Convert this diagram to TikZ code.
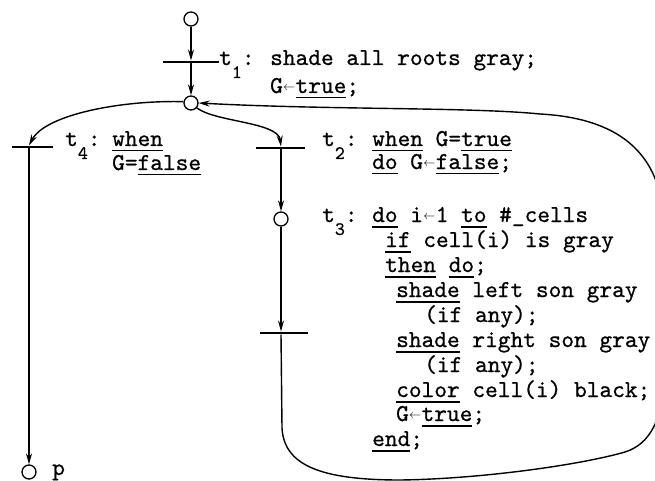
\documentclass[tikz,border=0pt]{standalone}
\usepackage{fontspec}
\usetikzlibrary{arrows.meta}

% typewriter text, underlined keywords, assignment arrow, transition labels
\newfontfamily\codeff{lmmono10-regular.otf}[FakeBold=0.7]
\newcommand\codefont{\codeff\fontsize{24.2}{25}\selectfont}
\newcommand\kw[1]{\leavevmode\setbox0\hbox{#1}\rlap{\rule[-5.5pt]{\wd0}{1.5pt}}\box0\relax}
\newcommand\asg{\makebox[0.525em]{\raisebox{0.1em}{\resizebox{0.5em}{!}{$\leftarrow$}}}}
\newcommand\tlab[1]{t\raisebox{-13pt}{\fontsize{19}{19}\selectfont #1}:}

\begin{document}
\begin{tikzpicture}[x=1pt,y=-1pt,
  place/.style={circle,draw,line width=1.3pt,minimum size=14pt,inner sep=0pt},
  bar/.style={rectangle,fill=black,minimum height=2.6pt,inner sep=0pt},
  arc/.style={line width=1.4pt,-{Stealth[length=11pt,width=6pt]}},
  code/.style={anchor=base west,inner sep=0pt,font=\codefont}]

\useasboundingbox (0,0) rectangle (655,481);
\clip (0,0) rectangle (655,481);

% places and transitions
\node[place] (p0) at (191,19) {};
\node[bar,minimum width=56pt] (t1) at (191,62) {};
\node[place] (p1) at (191,103) {};
\node[bar,minimum width=41pt] (t4) at (32.5,147) {};
\node[bar,minimum width=49pt] (t2) at (280.5,148) {};
\node[place] (p2) at (281,219) {};
\node[bar,minimum width=48pt] (t3) at (284,333) {};
\node[place] (pe) at (29,472) {};

% arcs
\draw[arc] (p0) -- (t1);
\draw[arc] (t1) -- (p1);
\draw[arc] (p1.170) .. controls (120,100) and (45,115) .. (pe |- t4.north);
\draw[arc] (p1.-40) .. controls (215,122) and (278,122) .. (p2 |- t2.north);
\draw[arc] (p2 |- t2.south) -- (p2);
\draw[arc] (p2) -- (p2 |- t3.north);
\draw[arc] (pe |- t4.south) -- (pe);
\draw[arc] (p2 |- t3.south) -- (282,428)
  .. controls (284,465) and (320,480) .. (400,480)
  .. controls (480,479) and (580,465) .. (625,452)
  .. controls (650,444) and (662,420) .. (664,380)
  -- (664,230)
  .. controls (664,150) and (615,118) .. (540,114)
  .. controls (470,107) and (330,110) .. (p1.east);

% inscriptions
\node[code] (l1) at (219,65) {\tlab1};
\node[code] (a1) at (270,65) {shade all roots gray;};
\node[code] (a2) at (270,93) {G\asg\kw{true};};

\node[code] (l4) at (65,146) {\tlab4};
\node[code] (d1) at (112,146) {\kw{when}};
\node[code] (d2) at (112,170) {G=\kw{false}};

\node[code] (l2) at (322,146) {\tlab2};
\node[code] (b1) at (372,146) {\kw{when} G=\kw{true}};
\node[code] (b2) at (372,169) {\kw{do} G\asg\kw{false};};

\node[code] (l3) at (322,222) {\tlab3};
\node[code] (c1) at (372,222) {\kw{do} i\asg1 \kw{to} \#\_cells};
\node[code] (c2) at (385,247) {\kw{if} cell(i) is gray};
\node[code] (c3) at (385,272) {\kw{then} \kw{do};};
\node[code] (c4) at (396,297) {\kw{shade} left son gray};
\node[code] (c5) at (424,322) {(if any);};
\node[code] (c6) at (396,347) {\kw{shade} right son gray};
\node[code] (c7) at (424,372) {(if any);};
\node[code] (c8) at (396,397) {\kw{color} cell(i) black;};
\node[code] (c9) at (396,421) {G\asg\kw{true};};
\node[code] (c10) at (372,446) {\kw{end};};

\node[code] (lp) at (52,475) {p};
\end{tikzpicture}
\end{document}
